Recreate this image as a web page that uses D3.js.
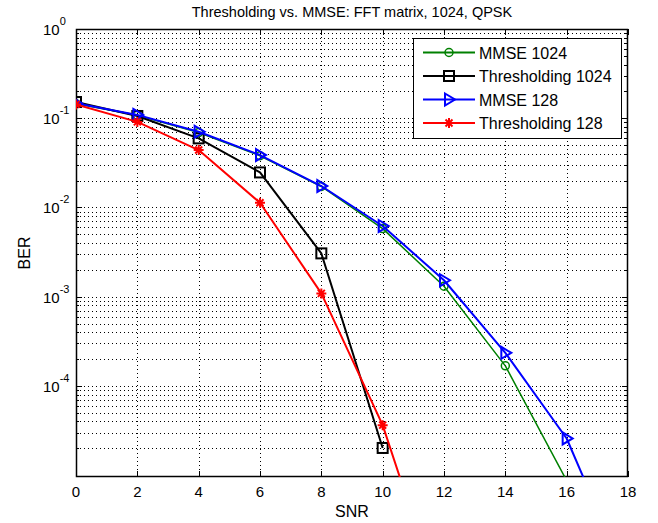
<!DOCTYPE html>
<html>
<head>
<meta charset="utf-8">
<script src="https://cdnjs.cloudflare.com/ajax/libs/d3/7.8.5/d3.min.js"></script>
<style>
  body { margin: 0; background: #fff; }
  svg { display: block; font-family: "Liberation Sans", Arial, sans-serif; }
</style>
</head>
<body>
<div class="chart"></div>
<script>
// values
var snr = [0, 2, 4, 6, 8, 10, 12, 14, 16, 18];
var mmse1024 = [0.145, 0.108, 0.069, 0.038, 0.0172, 5.8e-3, 1.31e-3, 1.68e-4, 8.7e-6, 1.5e-7];
var thr1024  = [0.152, 0.106, 0.0595, 0.0247, 3.06e-3, 2.02e-5, null, null, null, null];
var mmse128  = [0.147, 0.109, 0.0706, 0.0387, 0.0174, 6.2e-3, 1.53e-3, 2.35e-4, 2.58e-5, 6.5e-7];
var thr128   = [0.143, 0.091, 0.044, 0.0113, 1.09e-3, 3.64e-5, 3e-7, null, null, null];

var seriesNames = ['MMSE 1024', 'Thresholding 1024', 'MMSE 128', 'Thresholding 128'];
var xTicks = [0, 2, 4, 6, 8, 10, 12, 14, 16, 18];
var yTicks = [1, 1e-1, 1e-2, 1e-3, 1e-4];
var yExp = ['0', '-1', '-2', '-3', '-4'];

var width = 658, height = 523;
var pLeft = 76, pRight = 628, pTop = 29, pBottom = 477;

var svg = d3.select('.chart').append('svg')
  .attr('width', width)
  .attr('height', height);

var x = d3.scaleLinear().domain([0, 18]).range([pLeft, pRight]);
var y = d3.scaleLog().domain([9.55e-6, 1]).range([pBottom, pTop]);

// minor values inside each decade
var minor = [];
[-5, -4, -3, -2, -1].forEach(function(e){
  for (var k = 2; k <= 9; k++) minor.push(k * Math.pow(10, e));
});

svg.append('clipPath').attr('id', 'plotclip')
  .append('rect')
  .attr('x', pLeft).attr('y', pTop)
  .attr('width', pRight - pLeft).attr('height', pBottom - pTop);

// grid
var grid = svg.append('g')
  .attr('stroke', '#000')
  .attr('stroke-width', 1)
  .attr('stroke-dasharray', '1,3')
  .attr('shape-rendering', 'crispEdges');

grid.selectAll('.gx').data(xTicks.slice(1, -1)).enter().append('line')
  .attr('x1', function(d){ return Math.round(x(d)) + 0.5; })
  .attr('x2', function(d){ return Math.round(x(d)) + 0.5; })
  .attr('y1', pTop).attr('y2', pBottom);

grid.selectAll('.gy').data(yTicks.slice(1).concat(minor)).enter().append('line')
  .attr('x1', pLeft).attr('x2', pRight)
  .attr('y1', function(d){ return Math.round(y(d)) + 0.5; })
  .attr('y2', function(d){ return Math.round(y(d)) + 0.5; });

// ticks, inside, on all four sides
var ticks = svg.append('g').attr('stroke', '#000').attr('stroke-width', 1)
  .attr('shape-rendering', 'crispEdges');

xTicks.forEach(function(d){
  var px = Math.round(x(d)) + 0.5;
  ticks.append('line').attr('x1', px).attr('x2', px).attr('y1', pBottom).attr('y2', pBottom - 6);
  ticks.append('line').attr('x1', px).attr('x2', px).attr('y1', pTop).attr('y2', pTop + 6);
});
yTicks.forEach(function(d){
  var py = Math.round(y(d)) + 0.5;
  ticks.append('line').attr('x1', pLeft).attr('x2', pLeft + 6).attr('y1', py).attr('y2', py);
  ticks.append('line').attr('x1', pRight).attr('x2', pRight - 6).attr('y1', py).attr('y2', py);
});
minor.forEach(function(d){
  var py = Math.round(y(d)) + 0.5;
  ticks.append('line').attr('x1', pLeft).attr('x2', pLeft + 3).attr('y1', py).attr('y2', py);
  ticks.append('line').attr('x1', pRight).attr('x2', pRight - 3).attr('y1', py).attr('y2', py);
});

svg.append('rect')
  .attr('x', pLeft + 0.5).attr('y', pTop + 0.5)
  .attr('width', pRight - pLeft - 1).attr('height', pBottom - pTop - 1)
  .attr('fill', 'none').attr('stroke', '#000').attr('stroke-width', 1.5);

// tick labels
svg.selectAll('.xl').data(xTicks).enter().append('text')
  .attr('x', function(d){ return x(d); })
  .attr('y', pBottom + 20)
  .attr('text-anchor', 'middle')
  .attr('font-size', 15)
  .text(function(d){ return d; });

var yl = svg.selectAll('.yl').data(yTicks).enter().append('text')
  .attr('x', 43)
  .attr('y', function(d){ return y(d) + 6; })
  .attr('font-size', 15);
yl.append('tspan').text('10');
yl.append('tspan').attr('dy', -10).attr('font-size', 11)
  .text(function(d, i){ return yExp[i]; });

// titles
svg.append('text').attr('x', (pLeft + pRight) / 2).attr('y', 17)
  .attr('text-anchor', 'middle').attr('font-size', 14.5)
  .text('Thresholding vs. MMSE: FFT matrix, 1024, QPSK');
svg.append('text').attr('x', (pLeft + pRight) / 2).attr('y', 517)
  .attr('text-anchor', 'middle').attr('font-size', 16)
  .text('SNR');
svg.append('text').attr('transform', 'translate(30,' + ((pTop + pBottom) / 2) + ') rotate(-90)')
  .attr('text-anchor', 'middle').attr('font-size', 16)
  .text('BER');

// markers
function drawMarker(g, kind, color) {
  if (kind === 'o') {
    g.append('circle').attr('r', 4).attr('fill', 'none').attr('stroke', color).attr('stroke-width', 1.5);
  } else if (kind === 's') {
    g.append('rect').attr('x', -5).attr('y', -5).attr('width', 10).attr('height', 10)
      .attr('fill', 'none').attr('stroke', color).attr('stroke-width', 2);
  } else if (kind === '>') {
    g.append('path').attr('d', 'M-4,-6L6,0L-4,6Z')
      .attr('fill', 'none').attr('stroke', color).attr('stroke-width', 2);
  } else if (kind === '*') {
    g.append('path').attr('d', 'M-5,0H5M0,-5V5M-3.5,-3.5L3.5,3.5M-3.5,3.5L3.5,-3.5')
      .attr('fill', 'none').attr('stroke', color).attr('stroke-width', 2);
  }
}

var series = [
  { name: seriesNames[0], values: mmse1024, color: '#008000', marker: 'o', lw: 1.5 },
  { name: seriesNames[1], values: thr1024,  color: '#000000', marker: 's', lw: 2 },
  { name: seriesNames[2], values: mmse128,  color: '#0000ff', marker: '>', lw: 2 },
  { name: seriesNames[3], values: thr128,   color: '#ff0000', marker: '*', lw: 2 }
];

var line = d3.line()
  .defined(function(d){ return d[1] != null; })
  .x(function(d){ return x(d[0]); })
  .y(function(d){ return y(d[1]); });

var plot = svg.append('g').attr('clip-path', 'url(#plotclip)');

series.forEach(function(s){
  var pts = snr.map(function(v, i){ return [v, s.values[i]]; });
  plot.append('path')
    .attr('d', line(pts))
    .attr('fill', 'none')
    .attr('stroke', s.color)
    .attr('stroke-width', s.lw)
    .attr('stroke-linejoin', 'round');
  pts.filter(function(p){ return p[1] != null && p[1] >= y.domain()[0]; })
    .forEach(function(p){
      var g = plot.append('g').attr('transform', 'translate(' + x(p[0]) + ',' + y(p[1]) + ')');
      drawMarker(g, s.marker, s.color);
    });
});

// legend
var lx = 413, ly = 38, lw = 208, lh = 100;
var legend = svg.append('g');
legend.append('rect')
  .attr('x', lx + 0.5).attr('y', ly + 0.5).attr('width', lw).attr('height', lh)
  .attr('fill', '#fff').attr('stroke', '#000').attr('stroke-width', 1);

series.forEach(function(s, i){
  var cy = ly + 14.5 + i * 23.5;
  legend.append('line')
    .attr('x1', lx + 10).attr('x2', lx + 62)
    .attr('y1', cy).attr('y2', cy)
    .attr('stroke', s.color).attr('stroke-width', 2);
  var g = legend.append('g').attr('transform', 'translate(' + (lx + 36) + ',' + cy + ')');
  drawMarker(g, s.marker, s.color);
  legend.append('text')
    .attr('x', lx + 66).attr('y', cy + 6)
    .attr('font-size', 16)
    .text(s.name);
});
</script>
</body>
</html>
